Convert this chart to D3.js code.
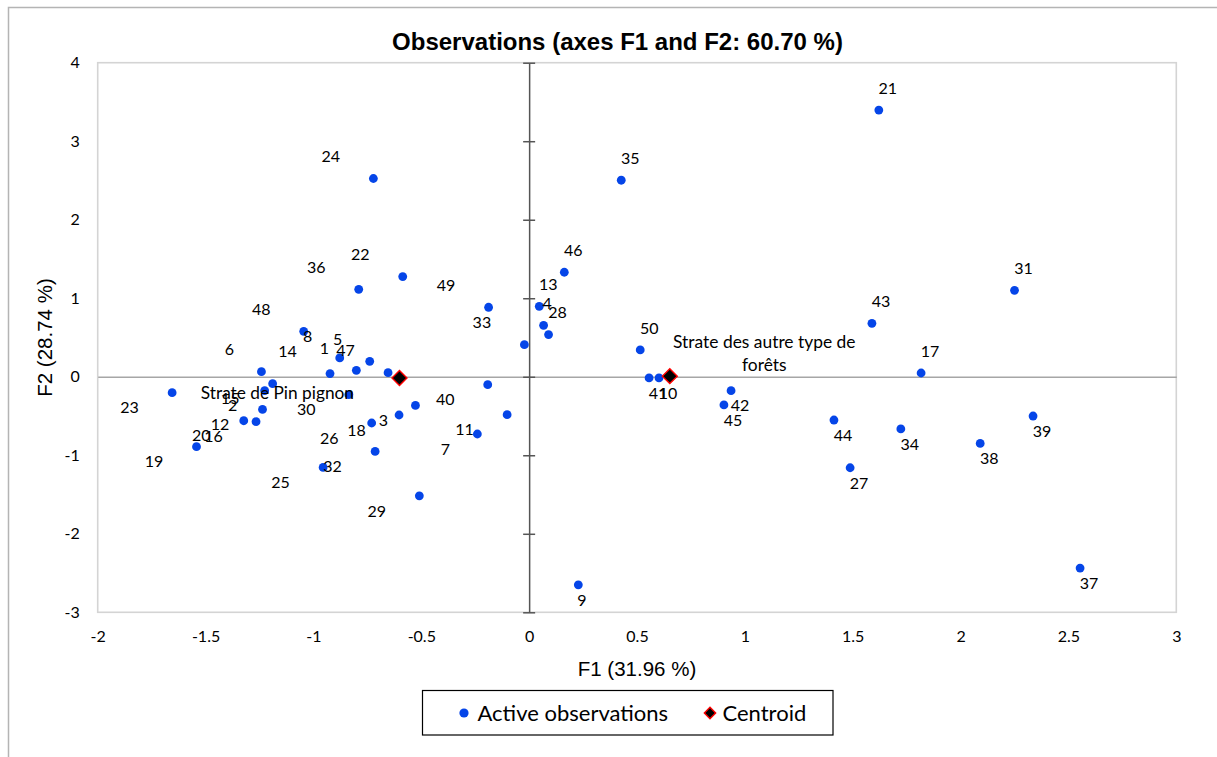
<!DOCTYPE html>
<html>
<head>
<meta charset="utf-8">
<script src="https://cdn.jsdelivr.net/npm/d3@7/dist/d3.min.js"></script>
<style>
  html, body { margin: 0; padding: 0; background: #ffffff; }
  svg { display: block; }
</style>
</head>
<body>
<script>
// ---------------- DATA ----------------
const chartTitle = "Observations (axes F1 and F2: 60.70 %)";
const xAxisTitle = "F1 (31.96 %)";
const yAxisTitle = "F2 (28.74 %)";

const obsLabels = ["1","2","3","4","5","6","7","8","9","10",
  "11","12","13","14","15","16","17","18","19","20",
  "21","22","23","24","25","26","27","28","29","30",
  "31","32","33","34","35","36","37","38","39","40",
  "41","42","43","44","45","46","47","48","49","50"];

const f1 = [-0.801, -1.226, -0.527, 0.067, -0.739, -1.241, -0.240, -0.878, 0.228, 0.602,
  -0.102, -1.236, 0.047, -0.923, -1.189, -1.266, 1.817, -0.603, -1.542, -1.323,
  1.621, -0.586, -1.655, -0.722, -0.955, -0.730, 1.488, 0.090, -0.509, -0.836,
  2.250, -0.714, -0.022, 1.723, 0.427, -0.790, 2.554, 2.091, 2.336, -0.192,
  0.556, 0.936, 1.589, 1.413, 0.903, 0.163, -0.654, -1.045, -0.188, 0.515];

const f2 = [0.082, -0.177, -0.365, 0.655, 0.196, 0.065, -0.729, 0.240, -2.650, -0.015,
  -0.483, -0.416, 0.897, 0.040, -0.088, -0.572, 0.048, -0.487, -0.891, -0.560,
  3.396, 1.276, -0.203, 2.525, -1.155, -0.589, -1.159, 0.537, -1.516, -0.228,
  1.101, -0.951, 0.409, -0.665, 2.503, 1.114, -2.437, -0.849, -0.500, -0.101,
  -0.015, -0.177, 0.681, -0.551, -0.359, 1.331, 0.052, 0.579, 0.885, 0.342];

const centroidNames = ["Strate de Pin pignon", "Strate des autre type de forêts"];
const centroidF1 = [-0.601, 0.652];
const centroidF2 = [-0.015, 0.008];

const xTicks = [-2, -1.5, -1, -0.5, 0, 0.5, 1, 1.5, 2, 2.5, 3];
const xTickLabels = ["-2", "-1.5", "-1", "-0.5", "0", "0.5", "1", "1.5", "2", "2.5", "3"];
const yTicks = [-3, -2, -1, 0, 1, 2, 3, 4];
const yTickLabels = ["-3", "-2", "-1", "0", "1", "2", "3", "4"];

const legendLabels = ["Active observations", "Centroid"];

// ---------------- LAYOUT (label placement: A=above/B=below, L=left/R=right) ----------------
const labelPlacement = ["AL","BL","BL","AR","AL","AL","BL","AL","BR","BR",
  "BL","BL","AR","AL","BL","BL","AR","BL","BL","BL",
  "AR","AL","BL","AL","BL","BL","BR","AR","BL","BL",
  "AR","BL","AL","BR","AR","AL","BR","BR","BR","BL",
  "BR","BR","AR","BR","BR","AR","AL","AL","AL","AR"];

const W = 1217, H = 757;
const plot = { left: 97.7, right: 1176.3, top: 62.7, bottom: 612.3 };
const labelFont = "Lato, 'Open Sans', sans-serif";
const arialFont = "'Liberation Sans', Arial, sans-serif";
const pointColor = "#0545e8";

const svg = d3.select("body").append("svg")
  .attr("width", W).attr("height", H)
  .attr("viewBox", `0 0 ${W} ${H}`);

svg.append("rect").attr("width", W).attr("height", H).attr("fill", "#ffffff");

// outer chart border
svg.append("rect")
  .attr("x", 8.5).attr("y", 7.5).attr("width", W + 20).attr("height", H + 20)
  .attr("fill", "none").attr("stroke", "#b4b4b4").attr("stroke-width", 1.5);

const x = d3.scaleLinear().domain([-2, 3]).range([plot.left, plot.right]);
const y = d3.scaleLinear().domain([-3, 4]).range([plot.bottom, plot.top]);

// plot frame
svg.append("rect")
  .attr("x", plot.left).attr("y", plot.top)
  .attr("width", plot.right - plot.left).attr("height", plot.bottom - plot.top)
  .attr("fill", "none").attr("stroke", "#d4d4d4").attr("stroke-width", 1.6);

// title
svg.append("text")
  .attr("x", 617.5).attr("y", 50)
  .attr("text-anchor", "middle")
  .attr("font-family", arialFont).attr("font-weight", "bold")
  .attr("font-size", 24).attr("fill", "#000")
  .text(chartTitle);

// horizontal axis line at F2 = 0
const xZeroAxis = d3.axisBottom(x).tickValues([]).tickSizeOuter(0);
svg.append("g")
  .attr("transform", `translate(0,${y(0)})`)
  .call(xZeroAxis)
  .call(g => g.select(".domain").attr("stroke", "#a6a6a6").attr("stroke-width", 1.5));

// vertical axis line at F1 = 0 with cross ticks
const yZeroAxis = d3.axisLeft(y).tickValues(yTicks).tickSizeInner(6).tickSizeOuter(0).tickFormat("");
svg.append("g")
  .attr("transform", `translate(${x(0)},0)`)
  .call(yZeroAxis)
  .call(g => g.select(".domain").attr("stroke", "#555555").attr("stroke-width", 1.5))
  .call(g => g.selectAll(".tick line").attr("x1", 6).attr("stroke", "#555555").attr("stroke-width", 1.5));

// tick labels (left and bottom)
const yLabelAxis = d3.axisLeft(y).tickValues(yTicks).tickSize(0).tickPadding(18)
  .tickFormat((d, i) => yTickLabels[i]);
svg.append("g")
  .attr("transform", `translate(${plot.left},0)`)
  .call(yLabelAxis)
  .call(g => g.select(".domain").remove())
  .call(g => g.selectAll("text").attr("font-family", labelFont).attr("font-size", 16).attr("fill", "#000"));

const xLabelAxis = d3.axisBottom(x).tickValues(xTicks).tickSize(0).tickPadding(18)
  .tickFormat((d, i) => xTickLabels[i]);
svg.append("g")
  .attr("transform", `translate(0,${plot.bottom})`)
  .call(xLabelAxis)
  .call(g => g.select(".domain").remove())
  .call(g => g.selectAll("text").attr("font-family", labelFont).attr("font-size", 16).attr("fill", "#000"));

// axis titles
svg.append("text")
  .attr("x", (plot.left + plot.right) / 2).attr("y", 676)
  .attr("text-anchor", "middle")
  .attr("font-family", arialFont).attr("font-size", 20.5).attr("fill", "#000")
  .text(xAxisTitle);

svg.append("text")
  .attr("transform", `translate(52,${(plot.top + plot.bottom) / 2}) rotate(-90)`)
  .attr("text-anchor", "middle")
  .attr("font-family", arialFont).attr("font-size", 20.5).attr("fill", "#000")
  .text(yAxisTitle);

// observations
const obs = obsLabels.map((lab, i) => ({ lab, f1: f1[i], f2: f2[i], pl: labelPlacement[i] }));

svg.append("g").selectAll("circle")
  .data(obs).join("circle")
  .attr("cx", d => x(d.f1)).attr("cy", d => y(d.f2))
  .attr("r", 4.4).attr("fill", pointColor);

// centroids
const cents = centroidNames.map((n, i) => ({ name: n, f1: centroidF1[i], f2: centroidF2[i] }));
const diamond = d3.symbol().type(d3.symbolSquare).size(112);
svg.append("g").selectAll("path")
  .data(cents).join("path")
  .attr("d", diamond)
  .attr("transform", d => `translate(${x(d.f1)},${y(d.f2)}) rotate(45)`)
  .attr("fill", "#000").attr("stroke", "#ff0000").attr("stroke-width", 1.4);

// observation labels
function labelDx(d) {
  const single = d.lab.length === 1;
  if (d.pl[1] === "R") return single ? 3.5 : 9;
  return single ? -32 : -42.5;
}
function labelDy(d) { return d.pl[0] === "A" ? -22 : 15; }

svg.append("g").selectAll("text")
  .data(obs).join("text")
  .attr("x", d => x(d.f1) + labelDx(d))
  .attr("y", d => y(d.f2) + labelDy(d))
  .attr("dy", "0.36em")
  .attr("text-anchor", "middle")
  .attr("font-family", labelFont).attr("font-size", 16).attr("fill", "#000")
  .text(d => d.lab);

// centroid labels
svg.append("text")
  .attr("x", x(cents[0].f1) - 45.5).attr("y", y(cents[0].f2) + 14.5)
  .attr("dy", "0.36em").attr("text-anchor", "end")
  .attr("font-family", labelFont).attr("font-size", 17.3).attr("fill", "#000")
  .text(cents[0].name);

const c2Words = cents[1].name.split(" ");
const c2Lines = [c2Words.slice(0, 5).join(" "), c2Words.slice(5).join(" ")];
const c2 = svg.append("text")
  .attr("text-anchor", "middle")
  .attr("font-family", labelFont).attr("font-size", 17.4).attr("fill", "#000");
c2Lines.forEach((line, i) => {
  c2.append("tspan")
    .attr("x", x(cents[1].f1) + 94.5)
    .attr("y", y(cents[1].f2) - 34 + i * 22.6)
    .attr("dy", "0.36em")
    .text(line);
});

// legend
const lg = svg.append("g");
lg.append("rect")
  .attr("x", 422.5).attr("y", 690.5).attr("width", 410.5).attr("height", 44.5)
  .attr("fill", "#fff").attr("stroke", "#000").attr("stroke-width", 1.2);
lg.append("circle").attr("cx", 464).attr("cy", 713).attr("r", 4.6).attr("fill", pointColor);
lg.append("text").attr("x", 477.5).attr("y", 713).attr("dy", "0.36em")
  .attr("font-family", labelFont).attr("font-size", 22).attr("fill", "#000")
  .text(legendLabels[0]);
lg.append("path").attr("d", d3.symbol().type(d3.symbolSquare).size(64))
  .attr("transform", "translate(710,713) rotate(45)")
  .attr("fill", "#000").attr("stroke", "#ff0000").attr("stroke-width", 1.4);
lg.append("text").attr("x", 722.5).attr("y", 713).attr("dy", "0.36em")
  .attr("font-family", labelFont).attr("font-size", 22).attr("fill", "#000")
  .text(legendLabels[1]);
</script>
</body>
</html>
